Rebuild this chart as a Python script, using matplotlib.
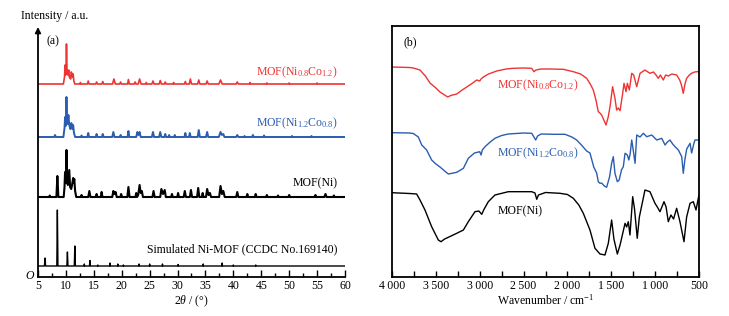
import numpy as np
import matplotlib
matplotlib.use("Agg")
import matplotlib.pyplot as plt
from matplotlib.ticker import MultipleLocator

plt.rcParams['font.family'] = ['Liberation Serif', 'DejaVu Serif']
plt.rcParams['mathtext.fontset'] = 'custom'
plt.rcParams['mathtext.rm'] = 'Liberation Serif'
plt.rcParams['mathtext.it'] = 'Liberation Serif:italic'

# ---------------- XRD (a): vertex lists, intensity above each baseline ----------------
red_tt = [5, 6.5, 8.0, 9.55, 9.75, 9.85, 9.95, 10.02, 10.1, 10.2, 10.35, 10.5, 10.62, 10.85,
          10.95, 11.05, 11.15, 11.22, 11.3, 11.42, 11.6, 12.5, 12.6, 12.7, 13.85, 14.0, 14.15,
          15.35, 15.5, 15.65, 16.45, 16.6, 16.75, 18.35, 18.6, 18.85, 19.65, 19.8, 19.95,
          21.05, 21.2, 21.35, 22.25, 22.4, 22.55, 22.95, 23.2, 23.45, 24.3, 24.4, 24.5,
          25.4, 25.6, 25.8, 26.7, 26.9, 27.1, 27.65, 27.8, 27.95, 29.2, 29.3, 29.4,
          31.25, 31.4, 31.55, 32.1, 32.3, 32.5, 33.6, 33.8, 34.0, 35.1, 35.3, 35.5,
          37.4, 37.7, 38.0, 40.5, 40.7, 40.9, 42.9, 43.0, 43.1, 45.9, 46.0, 46.1,
          49.9, 50.0, 50.1, 54.9, 55.0, 55.1, 60]
red_int = [0, 0, 0, 0, 7, 19, 9, 11, 40, 13, 9, 14, 7, 5,
           12, 11, 7, 10, 10, 3, 0, 0, 1.5, 0, 0, 3, 0,
           0, 2, 0, 0, 2.5, 0, 0, 5, 0, 0, 2, 0,
           0, 4.5, 0, 0, 2, 0, 0, 5, 0, 0, 1.5, 0,
           0, 3, 0, 0, 3.5, 0, 0, 2, 0, 0, 1.5, 0,
           0, 2.5, 0, 0, 5, 0, 0, 4, 0, 0, 3, 0,
           0, 4, 0, 0, 2, 0, 0, 1.5, 0, 0, 1, 0,
           0, 1, 0, 0, 1, 0, 0]

blue_tt = [5, 7.9, 8.05, 8.2, 9.55, 9.75, 9.85, 9.95, 10.02, 10.1, 10.2, 10.3, 10.45, 10.6,
           10.8, 10.95, 11.05, 11.15, 11.22, 11.3, 11.45, 11.65, 12.7, 12.8, 12.9,
           13.85, 14.0, 14.15, 15.35, 15.5, 15.65, 16.45, 16.6, 16.75, 18.3, 18.5, 18.7,
           19.65, 19.8, 19.95, 21.05, 21.2, 21.35, 22.6, 22.8, 23.0, 23.2, 23.4,
           25.4, 25.6, 25.8, 26.7, 26.9, 27.1, 27.65, 27.8, 27.95, 28.4, 28.5, 28.6,
           29.4, 29.5, 29.6, 31.25, 31.4, 31.55, 32.05, 32.2, 32.35, 33.6, 33.8, 34.0,
           35.1, 35.3, 35.5, 37.4, 37.7, 37.95, 38.2, 38.4, 40.5, 40.7, 40.9,
           41.9, 42.0, 42.1, 43.35, 43.5, 43.65, 45.4, 45.5, 45.6, 50.4, 50.5, 50.6,
           53.9, 54.0, 54.1, 60]
blue_int = [0, 0, 2, 0, 0, 9, 20, 11, 14, 40, 15, 13, 22, 12,
            8, 14, 13, 8, 12, 12, 4, 0, 0, 1.5, 0,
            0, 4, 0, 0, 3, 0, 0, 3, 0, 0, 5, 0,
            0, 2, 0, 0, 6, 0, 0, 5, 2, 5, 0,
            0, 5, 0, 0, 5, 0, 0, 3, 0, 0, 2, 0,
            0, 2, 0, 0, 4, 0, 0, 4, 0, 0, 7, 0,
            0, 5, 0, 0, 5, 2, 3, 0, 0, 2, 0,
            0, 1, 0, 0, 2, 0, 0, 1.5, 0, 0, 1, 0,
            0, 1, 0, 0]

ni_tt = [5, 7.0, 7.1, 7.2, 8.3, 8.47, 8.65, 9.6, 9.75, 9.85, 9.95, 10.02, 10.1, 10.2, 10.35,
         10.6, 10.75, 10.95, 11.1, 11.3, 11.4, 11.5, 11.65, 11.85, 12.7, 12.8, 12.9,
         14.0, 14.2, 14.4, 15.35, 15.5, 15.65, 16.25, 16.4, 16.55, 18.3, 18.5, 18.7, 18.9, 19.1,
         19.75, 19.9, 20.05, 21.0, 21.2, 21.4, 22.45, 22.6, 22.75, 22.95, 23.2, 23.4, 23.6, 23.8,
         25.5, 25.7, 25.9, 26.9, 27.1, 27.4, 27.7, 27.9, 28.85, 29.0, 29.15, 29.95, 30.1, 30.25,
         31.1, 31.3, 31.5, 32.2, 32.4, 32.6, 33.5, 33.7, 33.9, 34.35, 34.5, 34.65,
         35.1, 35.3, 35.55, 35.8, 36.0, 37.45, 37.7, 37.95, 38.2, 38.45, 40.5, 40.7, 40.9,
         42.35, 42.5, 42.65, 43.85, 44.0, 44.15, 45.85, 46.0, 46.15, 47.9, 48.0, 48.1,
         49.85, 50.0, 50.15, 54.55, 54.7, 54.85, 56.3, 56.5, 56.7, 57.9, 58.0, 58.1, 60]
ni_int = [0, 0, 1.5, 0, 0, 21, 0, 0, 10, 25, 14, 18, 47, 16, 12,
          27, 10, 8, 12, 19, 14, 18, 6, 0, 0, 2, 0,
          0, 6, 0, 0, 3, 0, 0, 5, 0, 0, 6, 3, 5, 0,
          0, 3, 0, 0, 10, 0, 0, 4, 0, 2, 12, 4, 6, 0,
          0, 6, 0, 0, 8, 3, 7, 0, 0, 3, 0, 0, 4, 0,
          0, 6, 0, 0, 7, 0, 0, 9, 0, 0, 4, 0,
          0, 8, 2, 4, 0, 0, 11, 3, 6, 0, 0, 5, 0,
          0, 3, 0, 0, 3, 0, 0, 2, 0, 0, 1.5, 0,
          0, 2, 0, 0, 2, 0, 0, 3, 0, 0, 1.5, 0, 0]

sim_tt = [5, 6.15, 6.26, 6.37, 8.37, 8.47, 8.57, 10.17, 10.27, 10.37, 11.5, 11.6, 11.7,
          13.25, 13.3, 13.35, 14.22, 14.3, 14.38, 15.65, 15.7, 15.75, 17.85, 17.9, 17.95,
          19.25, 19.3, 19.35, 20.25, 20.3, 20.35, 23.05, 23.1, 23.15, 24.95, 25.0, 25.05,
          27.25, 27.3, 27.35, 30.05, 30.1, 30.15, 34.55, 34.6, 34.65, 37.95, 38.0, 38.05,
          39.95, 40.0, 40.05, 43.95, 44.0, 44.05, 60]
sim_int = [0, 0, 8, 0, 0, 56, 0, 0, 14, 0, 0, 20, 0,
           0, 2, 0, 0, 5.5, 0, 0, 1, 0, 0, 3, 0,
           0, 2, 0, 0, 1, 0, 0, 2, 0, 0, 2, 0,
           0, 2, 0, 0, 1.5, 0, 0, 2, 0, 0, 3, 0,
           0, 1, 0, 0, 1, 0, 0]

xrd_offsets = [193, 140, 80, 11]
xrd_colors = ['#ee3333', '#2a5db0', 'black', 'black']
xrd_widths = [1.2, 1.4, 1.5, 1.0]
xrd_labels = [r'MOF(Ni$_{0.8}$Co$_{1.2}$)', r'MOF(Ni$_{1.2}$Co$_{0.8}$)',
              'MOF(Ni)', 'Simulated Ni-MOF (CCDC No.169140)']

# ---------------- FTIR (b) ----------------
red_wn = [4000, 3800, 3757, 3681, 3620, 3567, 3500, 3453, 3400, 3365, 3330, 3262, 3200, 3148,
          3080, 3034, 3000, 2985, 2959, 2900, 2806, 2700, 2617, 2500, 2408, 2381, 2360, 2300,
          2200, 2047, 1933, 1850, 1781, 1740, 1705, 1675, 1648, 1630, 1610, 1590, 1560, 1535,
          1515, 1485, 1458, 1439, 1420, 1400, 1370, 1355, 1332, 1317, 1294, 1267, 1245, 1210,
          1172, 1116, 1059, 1020, 990, 964, 940, 907, 880, 850, 810, 755, 720, 700, 679,
          660, 641, 610, 584, 550, 500]
red_t = [210, 209.5, 209, 207, 201, 194, 189, 185, 182, 180, 181.5, 183, 187, 190,
         194, 197, 196, 198, 200, 203, 206, 208, 208.7, 209, 208.7, 205.3, 207, 208,
         208, 207.7, 205.3, 203, 198.7, 193, 187, 177, 165.3, 164, 162, 158, 152, 160,
         170, 190.3, 178.7, 167, 169, 166.3, 183.7, 193.7, 185.3, 193.7, 187, 203.7, 202, 190.3,
         203.7, 207, 203.7, 205, 202, 198.7, 202, 197, 202, 201, 203, 202, 197, 192, 183.7,
         193, 198.7, 202, 203.7, 205, 205.5]

blue_wn = [4000, 3800, 3757, 3700, 3661, 3605, 3548, 3500, 3453, 3400, 3358, 3300, 3262, 3186,
           3130, 3060, 3000, 2985, 2970, 2940, 2880, 2826, 2750, 2674, 2500, 2407, 2362, 2340,
           2300, 2150, 2028, 1950, 1895, 1840, 1781, 1743, 1700, 1667, 1648, 1629, 1610, 1580,
           1553, 1520, 1496, 1477, 1458, 1431, 1410, 1384, 1363, 1343, 1317, 1300, 1285, 1267,
           1250, 1229, 1210, 1172, 1134, 1096, 1039, 982, 925, 887, 860, 831, 800, 773, 735,
           697, 679, 660, 640, 602, 584, 560, 546, 500]
blue_t = [144.3, 144, 143.5, 140, 132, 127, 117, 113, 110, 106, 103, 104, 104.7, 108.7,
          118.7, 124, 125.3, 122, 127, 130.3, 135, 138.7, 141.5, 143, 144, 143.7, 137, 141,
          143, 142.7, 142.7, 140, 137, 132, 126, 124, 110, 104, 95.3, 93.7, 94, 91,
          89.7, 100, 113.7, 120.3, 103.7, 95.3, 97, 107, 110.3, 123.7, 122, 117, 123, 137,
          127, 113.7, 142, 140, 143.7, 140.3, 142, 137, 138.7, 132, 135, 137, 133, 130.3, 127,
          120.3, 103.7, 118, 128, 133.7, 124, 133, 137, 137]

ni_wn = [4000, 3800, 3719, 3681, 3624, 3548, 3472, 3441, 3400, 3358, 3262, 3186, 3130, 3054,
         3010, 2977, 2955, 2902, 2826, 2674, 2407, 2370, 2350, 2330, 2250, 2085, 2000, 1933,
         1870, 1819, 1743, 1686, 1629, 1572, 1534, 1496, 1470, 1431, 1400, 1343, 1325, 1306,
         1287, 1256, 1235, 1204, 1180, 1116, 1059, 1002, 975, 945, 899, 875, 850, 820, 790,
         755, 717, 671, 641, 602, 565, 534, 508, 500]
ni_t = [84.3, 83.5, 83, 77, 67, 50.3, 37, 35.3, 38, 39.7, 43.7, 47, 55.3, 65.3,
        66, 62.7, 67, 75.3, 82, 85.3, 85.3, 84, 77.7, 82, 84.5, 83.7, 82.5, 78.7,
        72, 63.7, 47, 28.7, 23, 22, 33.7, 57, 38, 23, 32, 53.7, 50, 55.3,
        42, 80.3, 68, 38.7, 60, 87, 85.3, 73.7, 70, 65.3, 75.3, 70, 55.3, 62, 58,
        68.7, 55.3, 35.3, 60, 73.7, 75.3, 67, 78.7, 82]

fig = plt.figure(figsize=(7.29, 3.16), dpi=100)

# ---------------- panel (a) ----------------
ax1 = fig.add_axes([38/729, 1-277/316, 307/729, 250/316])
xrd_tt = [red_tt, blue_tt, ni_tt, sim_tt]
xrd_int = [red_int, blue_int, ni_int, sim_int]
label_y = [205, 154, 94, 28]
for tt, it, off, c, w, lab, ly in zip(xrd_tt, xrd_int, xrd_offsets, xrd_colors,
                                      xrd_widths, xrd_labels, label_y):
    ax1.plot(tt, np.array(it) + off, color=c, lw=w)
    ax1.text(58.7, ly, lab, color=c, ha='right', va='center', fontsize=8.5)

ax1.set_xlim(5, 60)
ax1.set_ylim(0, 250)
ax1.spines['top'].set_visible(False)
ax1.spines['right'].set_visible(False)
ax1.spines['left'].set_visible(False)
ax1.spines['bottom'].set_linewidth(1.3)
ax1.annotate('', xy=(0, 1.0), xytext=(0, 0), xycoords='axes fraction',
             arrowprops=dict(arrowstyle='-|>', lw=1.3, color='black',
                             mutation_scale=8, shrinkA=0, shrinkB=0))
ax1.set_yticks([])
ax1.xaxis.set_major_locator(MultipleLocator(5))
ax1.xaxis.set_minor_locator(MultipleLocator(2.5))
ax1.tick_params(axis='x', which='major', direction='in', length=5, width=1, labelsize=8.5, pad=2)
ax1.tick_params(axis='x', which='minor', direction='in', length=3, width=1)
ax1.set_xlabel(r'$2\theta$ / (°)', fontsize=8.5, labelpad=1)
ax1.text(7.6, 236, '(a)', fontsize=8.5, ha='center', va='center')
fig.text(21/729, 1-16/316, 'Intensity / a.u.', fontsize=8.5, ha='left', va='center')
fig.text(30/729, 1-276/316, 'O', fontsize=8.5, style='italic', ha='center', va='center')

# ---------------- panel (b) ----------------
ax2 = fig.add_axes([392/729, 1-277/316, 307/729, 251/316])
ax2.plot(red_wn, red_t, color='#ee3333', lw=1.0)
ax2.plot(blue_wn, blue_t, color='#2a5db0', lw=1.0)
ax2.plot(ni_wn, ni_t, color='black', lw=1.0)
ax2.text(2806, 192, r'MOF(Ni$_{0.8}$Co$_{1.2}$)', color='#ee3333', fontsize=8.5, ha='left', va='center')
ax2.text(2806, 123.7, r'MOF(Ni$_{1.2}$Co$_{0.8}$)', color='#2a5db0', fontsize=8.5, ha='left', va='center')
ax2.text(2791, 65.3, 'MOF(Ni)', color='black', fontsize=8.5, ha='left', va='center')
ax2.text(3795, 235, '(b)', fontsize=8.5, ha='center', va='center')
ax2.set_xlim(4000, 500)
ax2.set_ylim(0, 251)
ax2.set_yticks([])
for s in ax2.spines.values():
    s.set_linewidth(1.3)
wn_ticks = [4000, 3500, 3000, 2500, 2000, 1500, 1000, 500]
wn_labels = ['4\u2009000', '3\u2009500', '3\u2009000', '2\u2009500', '2\u2009000',
             '1\u2009500', '1\u2009000', '500']
ax2.set_xticks(wn_ticks)
ax2.set_xticklabels(wn_labels)
ax2.xaxis.set_minor_locator(MultipleLocator(250))
ax2.tick_params(axis='x', which='both', direction='in', length=4, width=1, labelsize=8.5, pad=2)
ax2.set_xlabel(r'Wavenumber / cm$^{-1}$', fontsize=8.5, labelpad=1)

fig.savefig('out.png', dpi=100)
